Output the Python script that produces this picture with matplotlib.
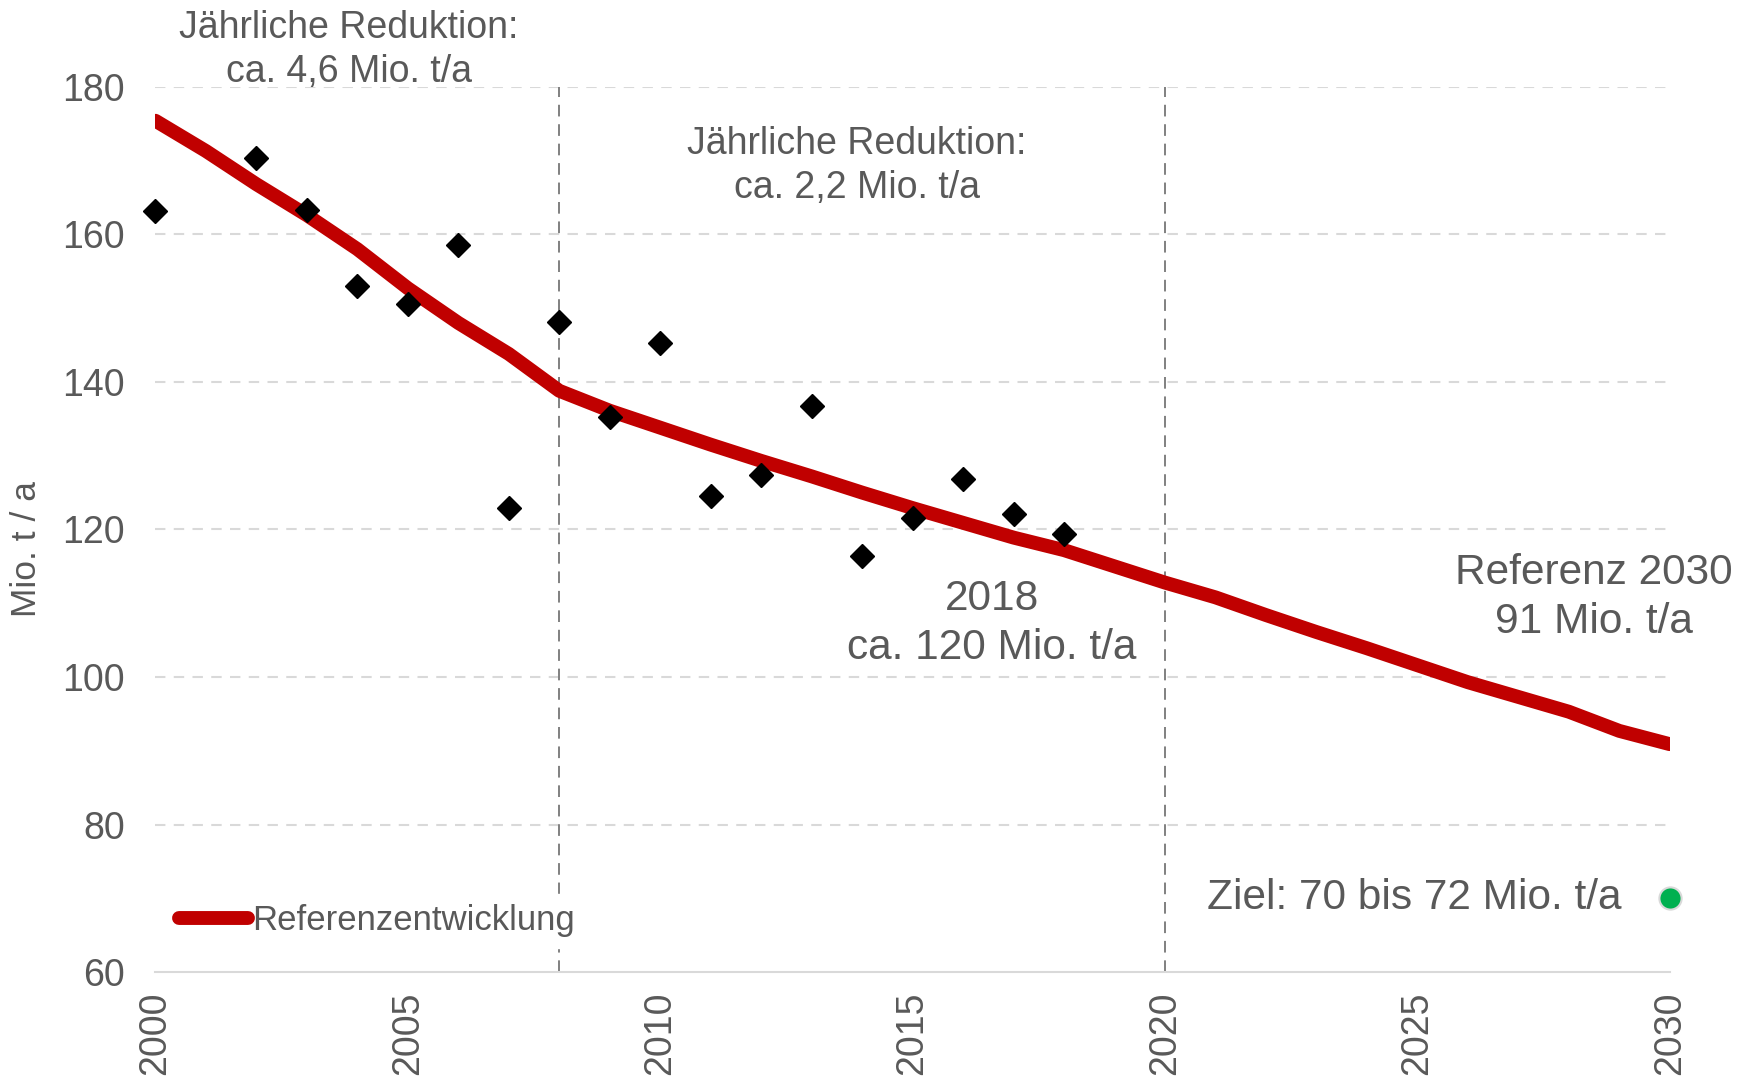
import matplotlib.pyplot as plt

plt.rcParams['font.family'] = ['Liberation Sans', 'DejaVu Sans']

# observed values (Mio. t / a), 2001 missing in the source
obs_years = [2000, 2002, 2003, 2004, 2005, 2006, 2007, 2008, 2009, 2010,
             2011, 2012, 2013, 2014, 2015, 2016, 2017, 2018]
obs_values = [163.1, 170.3, 163.3, 153.0, 150.6, 158.5, 122.9, 148.1, 135.3, 145.3,
              124.6, 127.4, 136.8, 116.4, 121.5, 126.9, 122.1, 119.4]

# reference development 2000-2030
ref_years = list(range(2000, 2031))
ref_values = [175.4, 171.3, 166.8, 162.6, 158.0, 152.7, 148.0, 143.8, 138.8, 136.1,
              133.8, 131.5, 129.3, 127.2, 125.0, 122.9, 120.9, 118.9, 117.2, 115.0,
              112.8, 110.8, 108.4, 106.1, 103.9, 101.6, 99.3, 97.3, 95.3, 92.7, 90.9]

target_year = 2030
target_value = 70

grey = '#595959'

fig = plt.figure(figsize=(17.54, 10.85), dpi=100)
ax = fig.add_axes([0.0886, 0.104, 0.8634, 0.816])

ax.set_xlim(2000, 2030)
ax.set_ylim(60, 180)

# grid
for y in range(80, 181, 20):
    ax.axhline(y, color='#d9d9d9', lw=1.5, ls=(0, (5, 4)), zorder=0)
for x in [2008, 2020]:
    ax.axvline(x, color='#808080', lw=1.4, ls=(0, (6, 4)), zorder=1)

ax.plot(ref_years, ref_values, color='#c00000', lw=10, solid_capstyle='round',
        solid_joinstyle='round', label='Referenzentwicklung', zorder=3)
ax.plot(obs_years, obs_values, ls='none', marker='D', ms=12.5, color='black',
        clip_on=False, zorder=4)
ax.plot([target_year], [target_value], ls='none', marker='o', ms=16,
        color='#00b050', mec='#d9d9d9', mew=1.5, clip_on=False, zorder=5)

for s in ['top', 'right', 'left']:
    ax.spines[s].set_visible(False)
ax.spines['bottom'].set_color('#d9d9d9')
ax.spines['bottom'].set_linewidth(1.5)

ax.set_xticks(range(2000, 2031, 5))
ax.set_yticks(range(60, 181, 20))
ax.tick_params(axis='x', length=0, pad=14, labelsize=27, labelcolor=grey, labelrotation=90)
ax.tick_params(axis='y', length=0, pad=22, labelsize=27, labelcolor=grey)
ax.set_ylabel('Mio. t / a', fontsize=25.5, color=grey)
ax.yaxis.set_label_coords(-0.074, 0.478)

# annotations
ax.text(2003.83, 185.0, 'Jährliche Reduktion:\nca. 4,6 Mio. t/a', ha='center', va='center',
        fontsize=27, color=grey, linespacing=1.3, clip_on=False)
ax.text(2013.89, 169.3, 'Jährliche Reduktion:\nca. 2,2 Mio. t/a', ha='center', va='center',
        fontsize=27, color=grey, linespacing=1.3)
ax.text(2016.57, 107.3, '2018\nca. 120 Mio. t/a', ha='center', va='center',
        fontsize=30.5, color=grey, linespacing=1.3)
ax.text(2028.5, 110.8, 'Referenz 2030\n91 Mio. t/a', ha='center', va='center',
        fontsize=30.5, color=grey, linespacing=1.3, clip_on=False)
ax.text(2029.05, 70.0, 'Ziel: 70 bis 72 Mio. t/a', ha='right', va='center',
        fontsize=30.5, color=grey)

leg = ax.legend(loc='center left', bbox_to_anchor=(0.004, 0.058), fontsize=25,
                frameon=True, facecolor='white', edgecolor='white', framealpha=1,
                handlelength=2.0, handletextpad=0.1, borderpad=0.3, borderaxespad=0.2)
for t in leg.get_texts():
    t.set_color(grey)
leg.set_zorder(2)

plt.savefig('out.png', dpi=100)
